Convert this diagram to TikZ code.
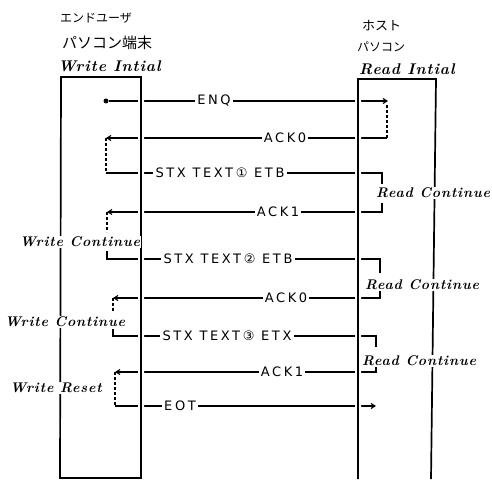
\documentclass[tikz,border=0pt]{standalone}
\usepackage{fontspec}
\usetikzlibrary{arrows.meta}
\newfontfamily\jpfont{Noto Sans CJK JP}
\newfontfamily\msgfont[LetterSpace=20]{DejaVu Sans}
\newfontfamily\lblfont[LetterSpace=6]{Latin Modern Roman}
\tikzset{
  msg/.style={font=\msgfont\fontsize{13}{15}\selectfont, inner sep=2pt},
  lbl/.style={font=\lblfont\bfseries\itshape\fontsize{14}{16}\selectfont, inner sep=1pt, fill=white},
  head/.style={font=\lblfont\bfseries\itshape\fontsize{15.5}{17}\selectfont, inner sep=1pt, anchor=west},
  jp/.style={font=\jpfont\fontsize{12}{14}\selectfont, inner sep=0pt, anchor=west},
  ln/.style={line width=1.1pt},
  arr/.style={-{Straight Barb[length=4pt,width=5pt]}},
  brk/.style={line width=1.1pt, dash pattern=on 3pt off 2pt},
  life/.style={line width=1.7pt, preaction={draw=white, line width=6pt}},
  dotnode/.style={circle, fill, inner sep=0pt, minimum size=5pt},
}
\begin{document}
\begin{tikzpicture}[x=1pt,y=-1pt]
\useasboundingbox (0,0) rectangle (492,481);

% ---------- headings ----------
\node[jp] (uA) at (60,18) {エンドユーザ};
\node[jp, font=\jpfont\fontsize{15}{17}\selectfont] (uB) at (62,43) {パソコン端末};
\node[head] (uC) at (57,66) {Write Intial};
\node[jp, font=\jpfont\fontsize{13}{15}\selectfont] (hA) at (362,26) {ホスト};
\node[jp] (hB) at (357,47) {パソコン};
\node[head] (hC) at (358,69) {Read Intial};

% ---------- messages ----------
% ENQ
\node[dotnode] (e0) at (106,101) {};
\node[msg,fill=white] (tENQ) at (214,101) {ENQ};
\coordinate (e1) at (388,101);
\coordinate (e2) at (387,105);
\draw[ln] (e0) -- (tENQ.west);
\draw[ln,arr] (tENQ.east) -- (e1);
% ACK0
\coordinate (a0r) at (387,138);
\coordinate (a0l) at (106,138);
\node[msg,fill=white] (tA0) at (285,138) {ACK0};
\draw[brk] (e2) -- (a0r);
\draw[ln] (a0r) -- (tA0.east);
\draw[ln,arr] (tA0.west) -- (a0l);
% STX 1
\coordinate (s1l) at (106,173);
\coordinate (s1r) at (382,173);
\coordinate (s1d) at (382,184);
\node[msg,fill=white] (tS1) at (220,173) {STX TEXT① ETB};
\draw[brk] (a0l) -- (s1l);
\draw[ln] (s1l) -- (tS1.west);
\draw[ln] (tS1.east) -- (s1r) -- (s1d);
% ACK1
\coordinate (a1u) at (382,203);
\coordinate (a1r) at (382,212);
\coordinate (a1l) at (107,212);
\coordinate (w1u) at (107,232);
\node[msg,fill=white] (tA1) at (278,212) {ACK1};
\draw[ln] (a1u) -- (a1r) -- (tA1.east);
\draw[ln,arr] (tA1.west) -- (a1l);
\draw[brk] (a1l) -- (w1u);
% STX 2
\coordinate (w1d) at (107,251);
\coordinate (s2l) at (107,259);
\coordinate (s2r) at (380,259);
\coordinate (s2d) at (380,273);
\node[msg,fill=white] (tS2) at (228,259) {STX TEXT② ETB};
\draw[ln] (w1d) -- (s2l) -- (tS2.west);
\draw[ln] (tS2.east) -- (s2r) -- (s2d);
% ACK0 (2)
\coordinate (b0u) at (380,290);
\coordinate (b0r) at (380,298);
\coordinate (b0l) at (113,298);
\coordinate (w2u) at (113,312);
\node[msg,fill=white] (tA2) at (286,298) {ACK0};
\draw[ln] (b0u) -- (b0r) -- (tA2.east);
\draw[ln,arr] (tA2.west) -- (b0l);
\draw[brk] (b0l) -- (w2u);
% STX 3
\coordinate (w2d) at (113,329);
\coordinate (s3l) at (113,336);
\coordinate (s3r) at (376,336);
\coordinate (s3d) at (376,347);
\node[msg,fill=white] (tS3) at (227,336) {STX TEXT③ ETX};
\draw[ln] (w2d) -- (s3l) -- (tS3.west);
\draw[ln] (tS3.east) -- (s3r) -- (s3d);
% ACK1 (2)
\coordinate (b1u) at (376,365);
\coordinate (b1r) at (376,372);
\coordinate (b1l) at (115,372);
\coordinate (w3d) at (115,406);
\node[msg,fill=white] (tA3) at (282,372) {ACK1};
\draw[ln] (b1u) -- (b1r) -- (tA3.east);
\draw[ln,arr] (tA3.west) -- (b1l);
\draw[brk] (b1l) -- (w3d);
% EOT
\coordinate (eotr) at (376,406);
\node[msg,fill=white] (tEOT) at (180,406) {EOT};
\draw[ln] (w3d) -- (tEOT.west);
\draw[ln,arr] (tEOT.east) -- (eotr);

% ---------- lifelines ----------
\coordinate (L1) at (61,77);
\coordinate (L2) at (141,77);
\coordinate (L3) at (141,478);
\coordinate (L4) at (60,478);
\draw[life] (L4) -- (L1) -- (L2) -- (L3) -- cycle;
\coordinate (R1) at (358,479);
\coordinate (R2) at (358,79);
\coordinate (R3) at (436,79);
\coordinate (R4) at (431,479);
\draw[life] (R1) -- (R2) -- (R3) -- (R4);

% ---------- state labels ----------
\node[lbl] (rc1) at (433,193) {Read Continue};
\node[lbl] (rc2) at (422,285) {Read Continue};
\node[lbl] (rc3) at (419,361) {Read Continue};
\node[lbl] (wc1) at (80,242) {Write Continue};
\node[lbl] (wc2) at (65,322) {Write Continue};
\node[lbl] (wr)  at (56,388) {Write Reset};
\end{tikzpicture}
\end{document}
